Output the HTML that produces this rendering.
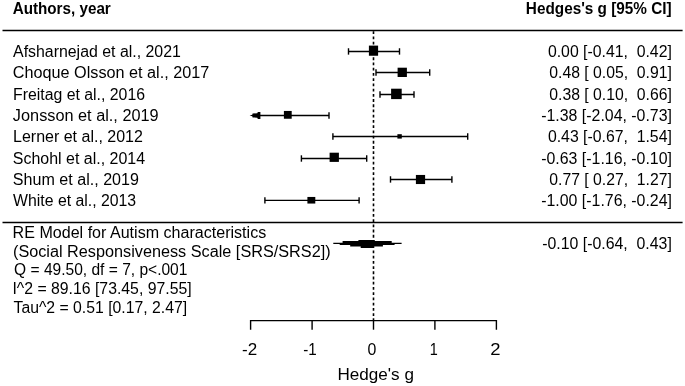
<!DOCTYPE html><html><head><meta charset="utf-8"><title>Forest plot</title><style>html,body{margin:0;padding:0;background:#fff}svg{display:block}text{font-family:"Liberation Sans",sans-serif;font-size:16px;fill:#000;white-space:pre}.b{font-weight:bold}</style></head><body>
<svg width="685" height="386" viewBox="0 0 685 386">
<rect width="685" height="386" fill="#fff"/>
<text class="b" x="12.69" y="14.0" textLength="98.07" lengthAdjust="spacingAndGlyphs" xml:space="preserve">Authors, year</text>
<text class="b" x="525.85" y="14.0" textLength="145.81" lengthAdjust="spacingAndGlyphs" xml:space="preserve">Hedges's g [95% CI]</text>
<g stroke="#000" stroke-width="1.4" fill="none">
<line x1="2.5" y1="30.5" x2="682.6" y2="30.5"/>
<line x1="2.5" y1="222.5" x2="682.6" y2="222.5"/>
<line x1="373.5" y1="30.5" x2="373.5" y2="320.6" stroke-dasharray="2.8 2.42" stroke-dashoffset="4.47" stroke-width="1.6"/>
<path d="M250.6 329.7V320.6H496.4V329.7"/>
<line x1="312.1" y1="320.6" x2="312.1" y2="329.7"/>
<line x1="373.5" y1="320.6" x2="373.5" y2="329.7"/>
<line x1="434.9" y1="320.6" x2="434.9" y2="329.7"/>
<line x1="348.5" y1="51.45" x2="399.5" y2="51.45"/>
<line x1="348.5" y1="48.25" x2="348.5" y2="54.65"/>
<line x1="399.5" y1="48.25" x2="399.5" y2="54.65"/>
<rect x="368.9" y="45.6" width="9.2" height="10.15" fill="#000" stroke="none"/>
<line x1="376.0" y1="72.45" x2="429.7" y2="72.45"/>
<line x1="376.0" y1="69.25" x2="376.0" y2="75.65"/>
<line x1="429.7" y1="69.25" x2="429.7" y2="75.65"/>
<rect x="397.6" y="67.7" width="9.3" height="9.3" fill="#000" stroke="none"/>
<line x1="380.0" y1="94.50" x2="414.0" y2="94.50"/>
<line x1="380.0" y1="91.30" x2="380.0" y2="97.70"/>
<line x1="414.0" y1="91.30" x2="414.0" y2="97.70"/>
<rect x="391.1" y="88.7" width="10.6" height="10.4" fill="#000" stroke="none"/>
<line x1="253.6" y1="115.45" x2="329.0" y2="115.45"/>
<polygon points="249.6,115.45 252.3,114.75 252.6,113.45 257.3,113.25 257.8,111.95 260.4,111.95 260.4,118.95 257.8,118.95 257.3,117.65 252.6,117.45 252.3,116.15" fill="#000" stroke="none"/>
<line x1="329.0" y1="112.25" x2="329.0" y2="118.65"/>
<rect x="283.9" y="110.95" width="7.8" height="7.8" fill="#000" stroke="none"/>
<line x1="332.9" y1="136.45" x2="467.7" y2="136.45"/>
<line x1="332.9" y1="133.25" x2="332.9" y2="139.65"/>
<line x1="467.7" y1="133.25" x2="467.7" y2="139.65"/>
<rect x="397.4" y="134.2" width="4.4" height="4.4" fill="#000" stroke="none"/>
<line x1="301.4" y1="158.50" x2="366.7" y2="158.50"/>
<line x1="301.4" y1="155.30" x2="301.4" y2="161.70"/>
<line x1="366.7" y1="155.30" x2="366.7" y2="161.70"/>
<rect x="329.6" y="152.7" width="9.3" height="9.2" fill="#000" stroke="none"/>
<line x1="390.5" y1="179.45" x2="451.9" y2="179.45"/>
<line x1="390.5" y1="176.25" x2="390.5" y2="182.65"/>
<line x1="451.9" y1="176.25" x2="451.9" y2="182.65"/>
<rect x="415.9" y="174.95" width="9.2" height="9.1" fill="#000" stroke="none"/>
<line x1="264.9" y1="200.40" x2="359.1" y2="200.40"/>
<line x1="264.9" y1="197.20" x2="264.9" y2="203.60"/>
<line x1="359.1" y1="197.20" x2="359.1" y2="203.60"/>
<rect x="307.4" y="196.95" width="7.9" height="6.6" fill="#000" stroke="none"/>
</g>
<path d="M333.3 242.75H342.6V241.1H358.4V239.9H374.7V241.1H391.7V242.75H401.6V243.9H394.6V245.1H382.9V246.6H373.6V248H360.7V246.6H350.2V245.1H339.7V243.9H333.3Z" fill="#000"/>
<text x="13.06" y="57.0" textLength="167.78" lengthAdjust="spacingAndGlyphs" xml:space="preserve">Afsharnejad et al., 2021</text>
<text x="547.95" y="57.0" textLength="123.88" lengthAdjust="spacingAndGlyphs" xml:space="preserve">0.00 [-0.41,  0.42]</text>
<text x="12.84" y="78.0" textLength="196.40" lengthAdjust="spacingAndGlyphs" xml:space="preserve">Choque Olsson et al., 2017</text>
<text x="549.27" y="78.0" textLength="122.56" lengthAdjust="spacingAndGlyphs" xml:space="preserve">0.48 [ 0.05,  0.91]</text>
<text x="13.01" y="100.0" textLength="132.03" lengthAdjust="spacingAndGlyphs" xml:space="preserve">Freitag et al., 2016</text>
<text x="549.27" y="100.0" textLength="122.56" lengthAdjust="spacingAndGlyphs" xml:space="preserve">0.38 [ 0.10,  0.66]</text>
<text x="12.89" y="121.0" textLength="145.76" lengthAdjust="spacingAndGlyphs" xml:space="preserve">Jonsson et al., 2019</text>
<text x="541.24" y="121.0" textLength="130.67" lengthAdjust="spacingAndGlyphs" xml:space="preserve">-1.38 [-2.04, -0.73]</text>
<text x="13.03" y="142.0" textLength="129.90" lengthAdjust="spacingAndGlyphs" xml:space="preserve">Lerner et al., 2012</text>
<text x="547.95" y="142.0" textLength="123.88" lengthAdjust="spacingAndGlyphs" xml:space="preserve">0.43 [-0.67,  1.54]</text>
<text x="12.84" y="164.0" textLength="132.18" lengthAdjust="spacingAndGlyphs" xml:space="preserve">Schohl et al., 2014</text>
<text x="541.24" y="164.0" textLength="130.67" lengthAdjust="spacingAndGlyphs" xml:space="preserve">-0.63 [-1.16, -0.10]</text>
<text x="12.88" y="185.0" textLength="126.04" lengthAdjust="spacingAndGlyphs" xml:space="preserve">Shum et al., 2019</text>
<text x="549.27" y="185.0" textLength="122.56" lengthAdjust="spacingAndGlyphs" xml:space="preserve">0.77 [ 0.27,  1.27]</text>
<text x="13.09" y="206.0" textLength="123.09" lengthAdjust="spacingAndGlyphs" xml:space="preserve">White et al., 2013</text>
<text x="541.24" y="206.0" textLength="130.67" lengthAdjust="spacingAndGlyphs" xml:space="preserve">-1.00 [-1.76, -0.24]</text>
<text x="542.18" y="249.0" textLength="129.64" lengthAdjust="spacingAndGlyphs" xml:space="preserve">-0.10 [-0.64,  0.43]</text>
<text x="12.64" y="238.0" textLength="253.59" lengthAdjust="spacingAndGlyphs" xml:space="preserve">RE Model for Autism characteristics</text>
<text x="12.97" y="257.0" textLength="317.65" lengthAdjust="spacingAndGlyphs" xml:space="preserve">(Social Responsiveness Scale [SRS/SRS2])</text>
<text x="14.11" y="275.0" textLength="173.30" lengthAdjust="spacingAndGlyphs" xml:space="preserve">Q = 49.50, df = 7, p&lt;.001</text>
<text x="12.45" y="294.0" textLength="179.18" lengthAdjust="spacingAndGlyphs" xml:space="preserve">I^2 = 89.16 [73.45, 97.55]</text>
<text x="13.53" y="313.0" textLength="173.55" lengthAdjust="spacingAndGlyphs" xml:space="preserve">Tau^2 = 0.51 [0.17, 2.47]</text>
<text x="242.01" y="355.0" textLength="15.14" lengthAdjust="spacingAndGlyphs" xml:space="preserve">-2</text>
<text x="303.32" y="355.0" textLength="13.49" lengthAdjust="spacingAndGlyphs" xml:space="preserve">-1</text>
<text x="367.55" y="355.0" textLength="8.84" lengthAdjust="spacingAndGlyphs" xml:space="preserve">0</text>
<text x="429.82" y="355.0" textLength="8.03" lengthAdjust="spacingAndGlyphs" xml:space="preserve">1</text>
<text x="490.17" y="355.0" textLength="10.28" lengthAdjust="spacingAndGlyphs" xml:space="preserve">2</text>
<text x="337.52" y="380.0" textLength="76.37" lengthAdjust="spacingAndGlyphs" xml:space="preserve">Hedge's g</text>
</svg></body></html>
